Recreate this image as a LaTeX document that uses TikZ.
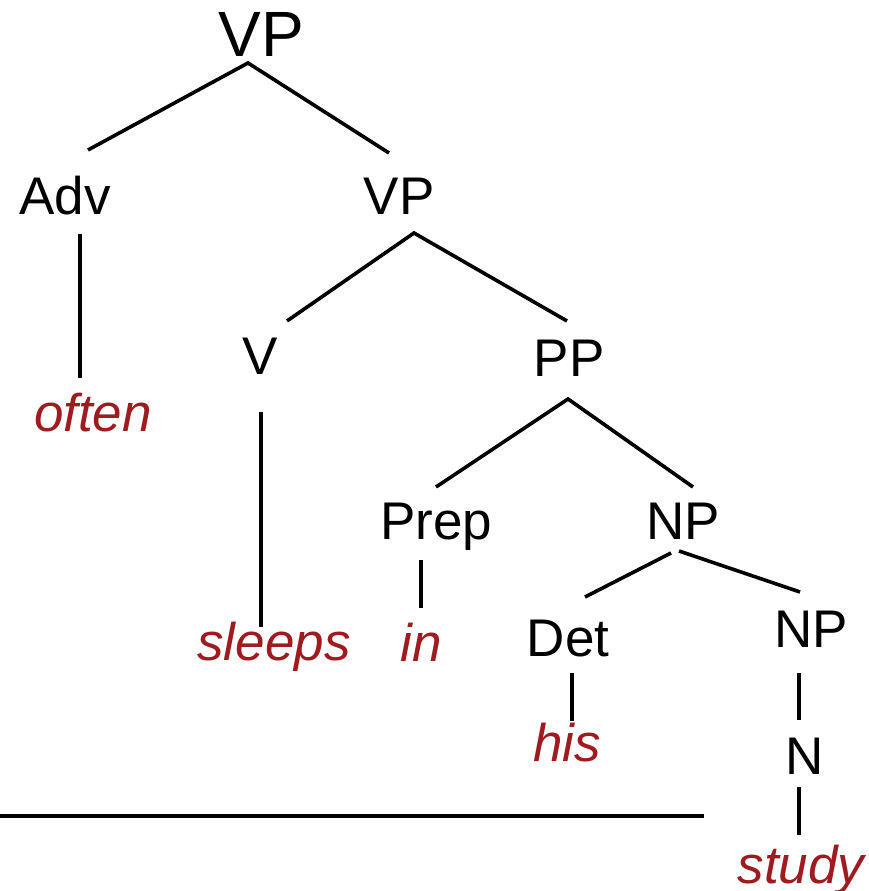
\documentclass[tikz,border=0pt]{standalone}
\usepackage{fontspec}
\setmainfont{Liberation Sans}
\usepackage{tikz}
\definecolor{wordred}{RGB}{158,27,32}
\tikzset{>=stealth}

\begin{document}
\begin{tikzpicture}[x=1pt,y=1pt,
    cat/.style={font=\fontsize{53}{60}\selectfont, inner sep=0pt, anchor=base},
    word/.style={cat, text=wordred, font=\fontsize{53}{60}\selectfont\itshape},
    branch/.style={line width=3.6pt}]
            \useasboundingbox (0,0) rectangle (869,891);
            % categories
            \node[cat, font=\fontsize{64}{70}\selectfont] (vp0) at (261,834) {VP};
            \node[cat] (adv) at (65,676) {Adv};
            \node[cat] (vp1) at (399,676) {VP};
            \node[cat] (v) at (260,516) {V};
            \node[cat] (pp) at (569,514) {PP};
            \node[cat] (prep) at (436,351) {Prep};
            \node[cat] (np0) at (683,351) {NP};
            \node[cat] (det) at (568,234) {Det};
            \node[cat] (np1) at (811,243) {NP};
            \node[cat] (n) at (805,116) {N};
            % words
            \node[word] (often) at (93,459) {often};
            \node[word] (sleeps) at (274,230) {sleeps};
            \node[word] (in) at (421,229) {in};
            \node[word] (his) at (567,129) {his};
            \node[word] (study) at (801,7) {study};
            % branches
            \draw[branch] ([shift={(23,65)}]adv.base) -- ([shift={(-13,-6)}]vp0.base) -- ([shift={(-10,62)}]vp1.base);
            \draw[branch] ([shift={(15,-19)}]adv.base) -- ([shift={(-13,54)}]often.base);
            \draw[branch] ([shift={(27,54)}]v.base) -- ([shift={(15,-18)}]vp1.base) -- ([shift={(-2,56)}]pp.base);
            \draw[branch] ([shift={(1,-37)}]v.base) -- ([shift={(-13,34)}]sleeps.base);
            \draw[branch] ([shift={(0,53)}]prep.base) -- ([shift={(-1,-22)}]pp.base) -- ([shift={(10,53)}]np0.base);
            \draw[branch] ([shift={(-15,-20)}]prep.base) -- ([shift={(0,54)}]in.base);
            \draw[branch] ([shift={(-12,-13)}]np0.base) -- ([shift={(17,60)}]det.base);
            \draw[branch] ([shift={(-4,-11)}]np0.base) -- ([shift={(-11,56)}]np1.base);
            \draw[branch] ([shift={(4,-16)}]det.base) -- ([shift={(5,41)}]his.base);
            \draw[branch] ([shift={(-12,-25)}]np1.base) -- ([shift={(-6,55)}]n.base);
            \draw[branch] ([shift={(-6,-12)}]n.base) -- ([shift={(-2,49)}]study.base);
            % rule under the tree
            \draw[branch] (0,75) -- (704,75);
        \end{tikzpicture}
\end{document}
